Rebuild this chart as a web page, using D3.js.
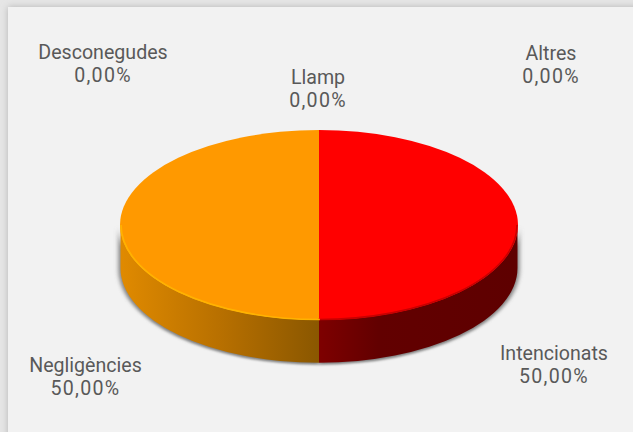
<!DOCTYPE html>
<html>
<head>
<meta charset="utf-8">
<script src="https://cdn.jsdelivr.net/npm/d3@7"></script>
<style>
  html, body { margin: 0; padding: 0; background: #e6e6e6; overflow: hidden; }
  text { font-family: Roboto, sans-serif; font-size: 19.6px; fill: #595959; }
  .val { letter-spacing: 1.3px; }
</style>
</head>
<body>
<div id="chart"></div>
<script>
var categories = ["Intencionats", "Negligències", "Llamp", "Desconegudes", "Altres"];
var values = [50, 50, 0, 0, 0];
var value_labels = ["50,00%", "50,00%", "0,00%", "0,00%", "0,00%"];

var width = 633, height = 432;

// pie geometry
var cx = 319, cy = 225, rx = 199, ry = 95, depth = 43;
var squash = ry / rx;

// label centres, same order as categories
var label_pos = [[554, 355], [85.5, 367], [318, 79], [103, 54], [551, 55]];

var svg = d3.select("#chart").append("svg")
    .attr("width", width)
    .attr("height", height)
    .style("display", "block");

var defs = svg.append("defs");

defs.append("filter").attr("id", "panel_shadow")
    .attr("x", "-5%").attr("y", "-5%").attr("width", "110%").attr("height", "110%")
  .append("feDropShadow")
    .attr("dx", 0).attr("dy", 0).attr("stdDeviation", 3.5)
    .attr("flood-color", "#b4b4b4");

defs.append("filter").attr("id", "pie_shadow")
    .attr("x", "-10%").attr("y", "-10%").attr("width", "120%").attr("height", "120%")
  .append("feGaussianBlur").attr("stdDeviation", 2);

defs.append("filter").attr("id", "rim_blur")
    .attr("x", "-5%").attr("y", "-5%").attr("width", "110%").attr("height", "110%")
  .append("feGaussianBlur").attr("stdDeviation", 0.6);

function side_gradient(id, stops) {
  var grad = defs.append("linearGradient")
      .attr("id", id)
      .attr("gradientUnits", "objectBoundingBox");
  stops.forEach(function(s) {
    grad.append("stop").attr("offset", s[0]).attr("stop-color", s[1]);
  });
}
side_gradient("side_red", [[0, "#7e0000"], [0.3, "#620000"], [1, "#5e0000"]]);
side_gradient("side_orange", [[0, "#e08a00"], [0.5, "#b87000"], [1, "#8a5700"]]);

var top_colors = ["#ff0000", "#ff9900", "#a5a5a5", "#4472c4", "#70ad47"];
var side_fills = ["url(#side_red)", "url(#side_orange)", "none", "none", "none"];
var rim_colors = ["#c80000", "#ffb300", "none", "none", "none"];

// panel, runs off the right and bottom of the picture
svg.append("rect")
    .attr("x", 8).attr("y", 7)
    .attr("width", width + 20).attr("height", height + 20)
    .attr("fill", "#f2f2f2")
    .attr("filter", "url(#panel_shadow)");

var pie = d3.pie().sort(null).value(function(d) { return d; });
var slices = pie(values);
var shown = slices.filter(function(d) { return d.value > 0; });

var arc = d3.arc().innerRadius(0).outerRadius(rx);

var plot = svg.append("g")
    .attr("transform", "translate(" + cx + "," + cy + ") scale(1," + squash + ")");

// side wall of a slice, only the part that faces the viewer
function side_path(d, r, drop) {
  var a0 = Math.max(d.startAngle, Math.PI / 2) - Math.PI / 2;
  var a1 = Math.min(d.endAngle, Math.PI * 1.5) - Math.PI / 2;
  if (a1 <= a0) return null;
  var p = d3.path();
  p.arc(0, 0, r, a0, a1, false);
  p.arc(0, drop, r, a1, a0, true);
  p.closePath();
  return p.toString();
}

var drop = depth / squash;

// soft shadow under the wall
plot.selectAll(".shadow")
    .data(shown)
  .enter().append("path")
    .attr("class", "shadow")
    .attr("d", function(d) { return side_path(d, rx + 1.5, drop + 2); })
    .attr("fill", "#808080")
    .attr("filter", "url(#pie_shadow)");

plot.selectAll(".side")
    .data(shown)
  .enter().append("path")
    .attr("class", "side")
    .attr("d", function(d) { return side_path(d, rx - 0.5, drop); })
    .attr("fill", function(d) { return side_fills[d.index]; });

plot.selectAll(".top")
    .data(shown)
  .enter().append("path")
    .attr("class", "top")
    .attr("d", arc)
    .attr("fill", function(d) { return top_colors[d.index]; });

// bright edge along the front of the top face
plot.selectAll(".rim")
    .data(shown)
  .enter().append("path")
    .attr("class", "rim")
    .attr("d", function(d) { return side_path(d, rx - 1, 0.01); })
    .attr("fill", "none")
    .attr("stroke", function(d) { return rim_colors[d.index]; })
    .attr("stroke-width", 1.6)
    .attr("vector-effect", "non-scaling-stroke")
    .attr("filter", "url(#rim_blur)");

// labels
var labels = svg.selectAll(".label")
    .data(categories)
  .enter().append("text")
    .attr("class", "label")
    .attr("text-anchor", "middle")
    .attr("transform", function(d, i) {
      return "translate(" + label_pos[i][0] + "," + label_pos[i][1] + ")";
    });

labels.append("tspan")
    .attr("x", 0).attr("y", 5)
    .text(function(d) { return d; });

labels.append("tspan")
    .attr("class", "val")
    .attr("x", 0).attr("y", 28)
    .text(function(d, i) { return value_labels[i]; });
</script>
</body>
</html>
